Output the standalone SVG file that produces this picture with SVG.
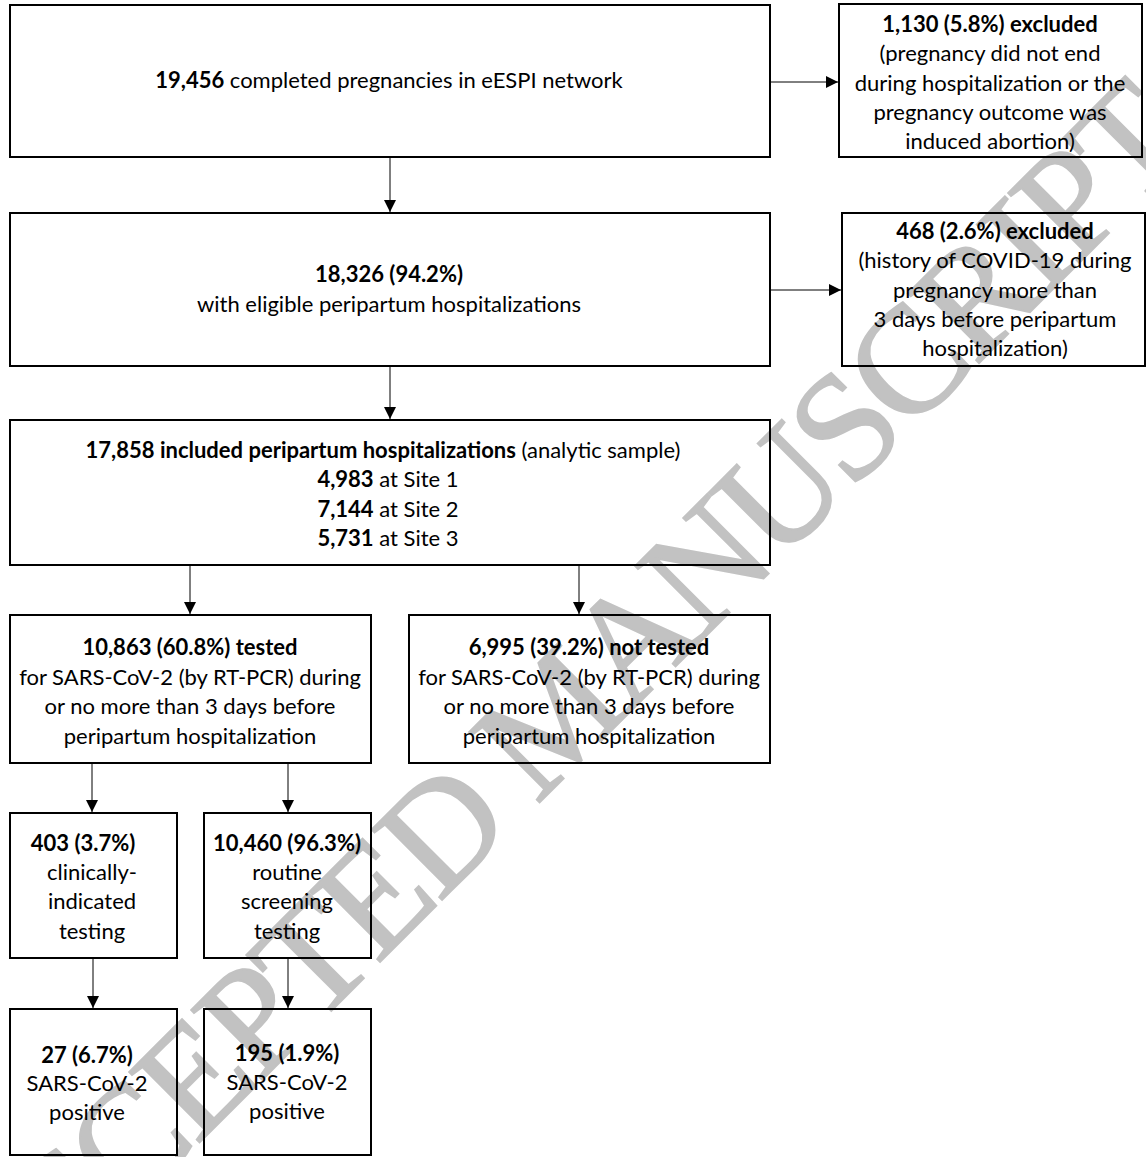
<svg xmlns="http://www.w3.org/2000/svg" width="1146" height="1157" viewBox="0 0 1146 1157">
<style>
.box{fill:none;stroke:#000;stroke-width:2}
.t{font-family:Lato,"Open Sans","Liberation Sans",sans-serif;font-size:22px;fill:#000;text-anchor:middle}
.b{font-weight:bold}
.c{stroke:#000;stroke-width:1;fill:none}
.wm{font-family:"Liberation Serif","Times New Roman",serif;font-size:152px;fill:#c2c2c2;stroke:#c2c2c2;stroke-width:2;text-anchor:middle;letter-spacing:-5px}
</style>
<defs>
<marker id="ah" markerUnits="userSpaceOnUse" markerWidth="12" markerHeight="12" viewBox="0 0 12 12" refX="12" refY="6" orient="auto">
<path d="M0,0 L12,6 L0,12 Z" fill="#000"/>
</marker>
</defs>
<rect width="1146" height="1157" fill="#fff"/>
<g id="watermark">
<text class="wm" transform="translate(590,752) rotate(-45)">ACCEPTED MANUSCRIPT</text>
</g>
<g id="connectors">
<line class="c" x1="390" y1="157" x2="390" y2="212" marker-end="url(#ah)"/>
<line class="c" x1="770" y1="82" x2="838" y2="82" marker-end="url(#ah)"/>
<line class="c" x1="770" y1="290" x2="841" y2="290" marker-end="url(#ah)"/>
<line class="c" x1="390" y1="366" x2="390" y2="419" marker-end="url(#ah)"/>
<line class="c" x1="190" y1="565" x2="190" y2="614" marker-end="url(#ah)"/>
<line class="c" x1="579" y1="565" x2="579" y2="614" marker-end="url(#ah)"/>
<line class="c" x1="92" y1="763" x2="92" y2="812" marker-end="url(#ah)"/>
<line class="c" x1="288" y1="763" x2="288" y2="812" marker-end="url(#ah)"/>
<line class="c" x1="93" y1="958" x2="93" y2="1008" marker-end="url(#ah)"/>
<line class="c" x1="288" y1="958" x2="288" y2="1008" marker-end="url(#ah)"/>
</g>
<g id="n-completed">
<rect class="box" x="10" y="5" width="760" height="152"/>
<text class="t" x="389" y="88"><tspan class="b">19,456</tspan> completed pregnancies in eESPI network</text>
</g>
<g id="n-excluded1">
<rect class="box" x="839" y="4" width="303" height="153"/>
<text class="t" x="990" y="32"><tspan class="b">1,130 (5.8%) excluded</tspan></text>
<text class="t" x="990" y="61">(pregnancy did not end</text>
<text class="t" x="990" y="91">during hospitalization or the</text>
<text class="t" x="990" y="120">pregnancy outcome was</text>
<text class="t" x="990" y="149">induced abortion)</text>
</g>
<g id="n-eligible">
<rect class="box" x="10" y="213" width="760" height="153"/>
<text class="t b" x="389" y="282">18,326 (94.2%)</text>
<text class="t" x="389" y="312">with eligible peripartum hospitalizations</text>
</g>
<g id="n-excluded2">
<rect class="box" x="842" y="213" width="303" height="153"/>
<text class="t b" x="995" y="239">468 (2.6%) excluded</text>
<text class="t" x="995" y="268">(history of COVID-19 during</text>
<text class="t" x="995" y="298">pregnancy more than</text>
<text class="t" x="995" y="327">3 days before peripartum</text>
<text class="t" x="995" y="356">hospitalization)</text>
</g>
<g id="n-included">
<rect class="box" x="10" y="420" width="760" height="145"/>
<text class="t" x="383" y="458"><tspan class="b">17,858 included peripartum hospitalizations</tspan> (analytic sample)</text>
<text class="t" x="388" y="487"><tspan class="b">4,983</tspan> at Site 1</text>
<text class="t" x="388" y="517"><tspan class="b">7,144</tspan> at Site 2</text>
<text class="t" x="388" y="546"><tspan class="b">5,731</tspan> at Site 3</text>
</g>
<g id="n-tested">
<rect class="box" x="10" y="615" width="361" height="148"/>
<text class="t b" x="190" y="655">10,863 (60.8%) tested</text>
<text class="t" x="190" y="685">for SARS-CoV-2 (by RT-PCR) during</text>
<text class="t" x="190" y="714">or no more than 3 days before</text>
<text class="t" x="190" y="744">peripartum hospitalization</text>
</g>
<g id="n-nottested">
<rect class="box" x="409" y="615" width="361" height="148"/>
<text class="t b" x="589" y="655">6,995 (39.2%) not tested</text>
<text class="t" x="589" y="685">for SARS-CoV-2 (by RT-PCR) during</text>
<text class="t" x="589" y="714">or no more than 3 days before</text>
<text class="t" x="589" y="744">peripartum hospitalization</text>
</g>
<g id="n-clinical">
<rect class="box" x="10" y="813" width="167" height="145"/>
<text class="t b" x="83" y="851">403 (3.7%)</text>
<text class="t" x="92" y="880">clinically-</text>
<text class="t" x="92" y="909">indicated</text>
<text class="t" x="92" y="939">testing</text>
</g>
<g id="n-routine">
<rect class="box" x="204" y="813" width="167" height="145"/>
<text class="t b" x="287" y="851">10,460 (96.3%)</text>
<text class="t" x="287" y="880">routine</text>
<text class="t" x="287" y="909">screening</text>
<text class="t" x="287" y="939">testing</text>
</g>
<g id="n-pos1">
<rect class="box" x="10" y="1009" width="167" height="146"/>
<text class="t b" x="87" y="1063">27 (6.7%)</text>
<text class="t" x="87" y="1091">SARS-CoV-2</text>
<text class="t" x="87" y="1120">positive</text>
</g>
<g id="n-pos2">
<rect class="box" x="204" y="1009" width="167" height="146"/>
<text class="t b" x="287" y="1061">195 (1.9%)</text>
<text class="t" x="287" y="1090">SARS-CoV-2</text>
<text class="t" x="287" y="1119">positive</text>
</g>
</svg>
